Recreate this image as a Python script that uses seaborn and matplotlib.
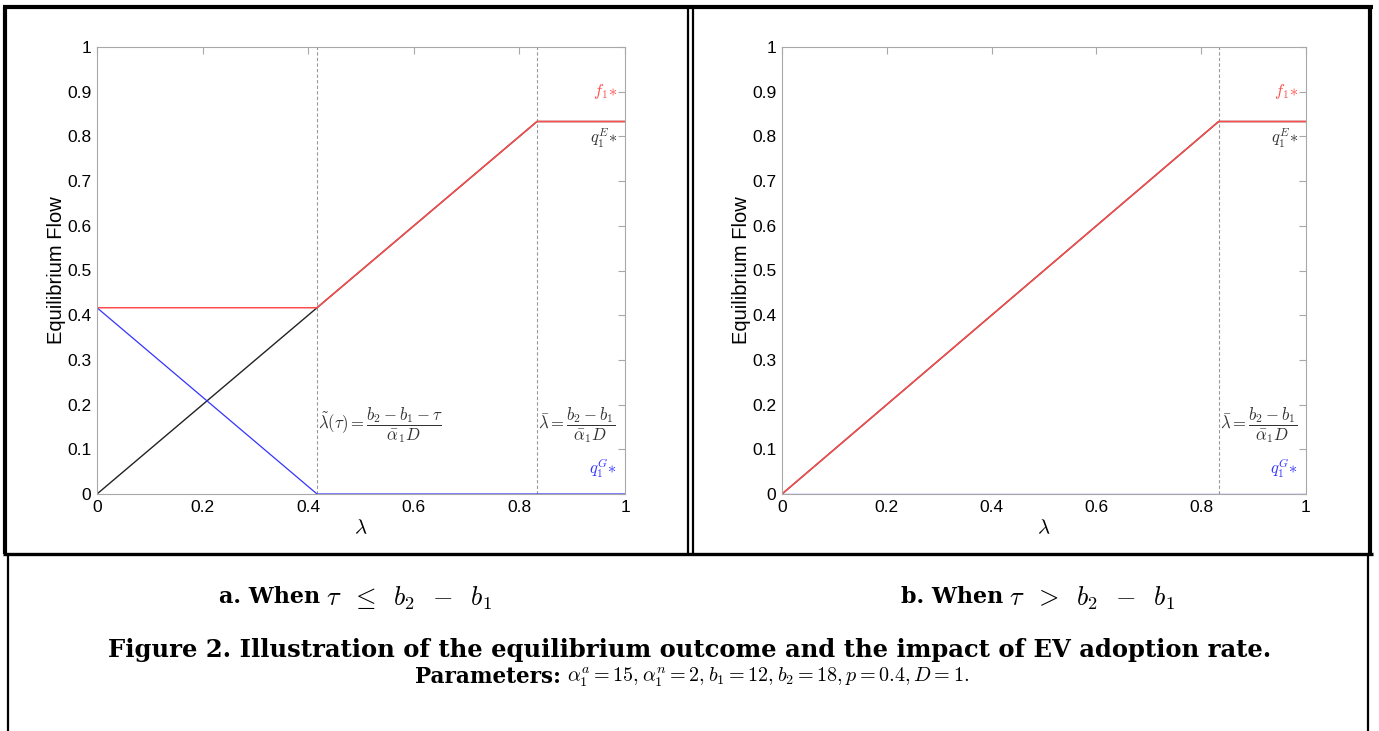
import matplotlib
matplotlib.use("Agg")
import matplotlib.pyplot as plt
import seaborn as sns
import pandas as pd
from matplotlib.lines import Line2D

# panel a: tau <= b2 - b1
LAM_A = [0, 0.4167, 0.8333, 1]
F1_A = [0.4167, 0.4167, 0.8333, 0.8333]
QE_A = [0, 0.4167, 0.8333, 0.8333]
QG_A = [0.4167, 0, 0, 0]
VLINES_A = [0.4167, 0.8333]

# panel b: tau > b2 - b1
LAM_B = [0, 0.8333, 1]
F1_B = [0, 0.8333, 0.8333]
QE_B = [0, 0.8333, 0.8333]
QG_B = [0, 0, 0]
VLINES_B = [0.8333]

TICKS_X = [0, 0.2, 0.4, 0.6, 0.8, 1]
TICKS_Y = [0, 0.1, 0.2, 0.3, 0.4, 0.5, 0.6, 0.7, 0.8, 0.9, 1]

W, H = 1379, 731
AX_GREY = "#a8a8a8"
RED = "#ff4d4d"
BLUE = "#3333ff"


def fx(px):
    return px / W


def fy(py):
    return 1 - py / H


def draw_panel(ax, lam, f1, qe, qg, vlines, notes):
    df = pd.DataFrame({"lam": lam, "f1": f1, "qe": qe, "qg": qg})
    sns.lineplot(data=df, x="lam", y="qe", color="#222222", lw=1.0, sort=False, ax=ax)
    sns.lineplot(data=df, x="lam", y="qg", color=BLUE, lw=0.9, sort=False, ax=ax)
    sns.lineplot(data=df, x="lam", y="f1", color=RED, lw=1.1, sort=False, ax=ax)
    for v in vlines:
        ax.axvline(v, color="#999999", lw=0.8, ls=(0, (3, 2)), zorder=0)
    for x, txt in notes:
        ax.text(x + 0.002, 0.155, txt, fontsize=12, color="#333333", ha="left", va="center")

    ax.text(0.985, 0.9, r"$f_1{*}$", color=RED, fontsize=12, ha="right", va="center")
    ax.text(0.985, 0.795, r"$q_1^E{*}$", color="#333333", fontsize=12, ha="right", va="center")
    ax.text(0.985, 0.058, r"$q_1^G{*}$", color=BLUE, fontsize=12, ha="right", va="center")

    ax.set_xlim(0, 1)
    ax.set_ylim(0, 1)
    ax.set_xticks(TICKS_X)
    ax.set_xticklabels([f"{t:g}" for t in TICKS_X])
    ax.set_yticks(TICKS_Y)
    ax.set_yticklabels([f"{t:g}" for t in TICKS_Y])
    ax.set_xlabel(r"$\lambda$", fontsize=15, labelpad=3, color="black")
    ax.set_ylabel("Equilibrium Flow", fontsize=14.5, labelpad=1, color="black")
    ax.tick_params(direction="in", top=True, right=True, length=5, width=0.8,
                   color=AX_GREY, labelsize=12.5, labelcolor="black", pad=4)
    for s in ax.spines.values():
        s.set_color(AX_GREY)
        s.set_linewidth(0.8)
        s.set_visible(True)


sns.set_theme(style="white")
plt.rcParams["font.family"] = ["Liberation Sans", "DejaVu Sans"]
plt.rcParams["mathtext.fontset"] = "cm"

fig = plt.figure(figsize=(W / 100, H / 100), dpi=100)
fig.patch.set_facecolor("white")

ax_a = fig.add_axes([fx(97), fy(494), fx(625 - 97), (494 - 47) / H])
ax_b = fig.add_axes([fx(782), fy(494), fx(1306 - 782), (494 - 47) / H])

draw_panel(ax_a, LAM_A, F1_A, QE_A, QG_A, VLINES_A, [
    (VLINES_A[0], r"$\tilde{\lambda}(\tau)=\dfrac{b_2-b_1-\tau}{\bar{\alpha}_1 D}$"),
    (VLINES_A[1], r"$\bar{\lambda}=\dfrac{b_2-b_1}{\bar{\alpha}_1 D}$"),
])
draw_panel(ax_b, LAM_B, F1_B, QE_B, QG_B, VLINES_B, [
    (VLINES_B[0], r"$\bar{\lambda}=\dfrac{b_2-b_1}{\bar{\alpha}_1 D}$"),
])


# table-like frame around the panels
def seg(x0, y0, x1, y1, lw):
    fig.add_artist(Line2D([fx(x0), fx(x1)], [fy(y0), fy(y1)], color="black",
                          lw=lw, solid_capstyle="butt", transform=fig.transFigure))


seg(3, 7, 1373, 7, 3.0)
seg(5, 7, 5, 554, 3.0)
seg(1370, 7, 1370, 554, 3.0)
seg(688, 7, 688, 554, 1.6)
seg(693, 7, 693, 554, 1.6)
seg(3, 554, 1373, 554, 2.4)
seg(8, 554, 8, 731, 1.6)
seg(1368, 554, 1368, 731, 1.6)

serif = ["DejaVu Serif"]
cap = dict(fontweight="bold", family=serif, va="center", color="black")

# sub-captions: bold words + math part
fig.text(fx(320), fy(597), "a. When", fontsize=16, ha="right", **cap)
fig.text(fx(326), fy(598), r"$\tau\;\;\leq\;\;b_2\;\;-\;\;b_1$", fontsize=19, ha="left", va="center",
         color="black")
fig.text(fx(1003), fy(597), "b. When", fontsize=16, ha="right", **cap)
fig.text(fx(1009), fy(598), r"$\tau\;\;>\;\;b_2\;\;-\;\;b_1$", fontsize=19, ha="left", va="center",
         color="black")

fig.text(fx(690), fy(650), "Figure 2. Illustration of the equilibrium outcome and the impact of EV adoption rate.",
         fontsize=17.5, ha="center", **cap)
fig.text(fx(561), fy(677), "Parameters:", fontsize=15.5, ha="right", **cap)
fig.text(fx(567), fy(677),
         r"$\alpha_1^a = 15, \alpha_1^n = 2, b_1 = 12, b_2 = 18, p = 0.4, D = 1.$",
         fontsize=14.5, ha="left", va="center", color="black")

fig.savefig("out.png", dpi=100, facecolor="white")
